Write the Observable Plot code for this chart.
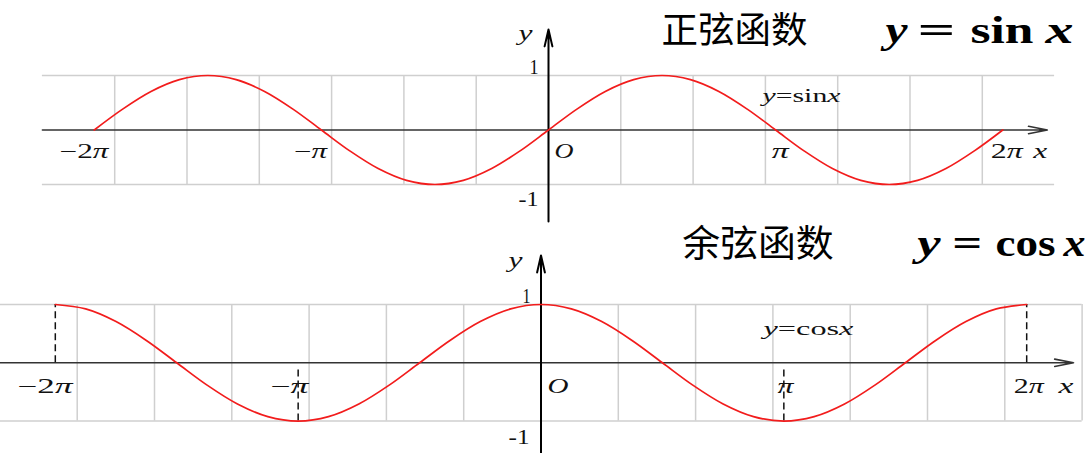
<!DOCTYPE html>
<html>
<head>
<meta charset="utf-8">
<script src="https://cdn.jsdelivr.net/npm/d3@7"></script>
<script src="https://cdn.jsdelivr.net/npm/@observablehq/plot@0.6"></script>
<style>
html, body { margin: 0; padding: 0; background: #fff; overflow: hidden; }
#chart { position: relative; width: 1087px; height: 453px; overflow: hidden; background: #fff; }
#chart svg { position: absolute; left: 0; top: 0; }
</style>
</head>
<body>
<div id="chart"></div>
<script>
// ---------- data ----------
// sample positions along x, in multiples of π
const xInPi = [-2, -1.875, -1.75, -1.625, -1.5, -1.375, -1.25, -1.125, -1, -0.875, -0.75, -0.625, -0.5, -0.375, -0.25, -0.125,
  0, 0.125, 0.25, 0.375, 0.5, 0.625, 0.75, 0.875, 1, 1.125, 1.25, 1.375, 1.5, 1.625, 1.75, 1.875, 2];
const sinValues = [0, 0.383, 0.707, 0.924, 1, 0.924, 0.707, 0.383, 0, -0.383, -0.707, -0.924, -1, -0.924, -0.707, -0.383,
  0, 0.383, 0.707, 0.924, 1, 0.924, 0.707, 0.383, 0, -0.383, -0.707, -0.924, -1, -0.924, -0.707, -0.383, 0];
const cosValues = [1, 0.924, 0.707, 0.383, 0, -0.383, -0.707, -0.924, -1, -0.924, -0.707, -0.383, 0, 0.383, 0.707, 0.924,
  1, 0.924, 0.707, 0.383, 0, -0.383, -0.707, -0.924, -1, -0.924, -0.707, -0.383, 0, 0.383, 0.707, 0.924, 1];
const piTicks = [-2, -1, 1, 2];
const piTickLabels = ["−2π", "−π", "π", "2π"];
const yTicks = [1, -1];
const yTickLabels = ["1", "-1"];
const gridColumnsTop = [-6, -5, -4, -3, -2, -1, 0, 1, 2, 3, 4, 5, 6];
const gridColumnsBottom = [-6, -5, -4, -3, -2, -1, 0, 1, 2, 3, 4, 5, 6, 7];
const gridRows = [-1, 1];
const dashedTop = [-2, 2];     // in π, dashed from axis to y = 1 (cos panel)
const dashedBottom = [-1, 1];  // in π, dashed from y = -1 to axis (cos panel)
const titles = ["正弦函数", "余弦函数"];
const formulas = [["y", "=", "sin", "x"], ["y", "=", "cos", "x"]];
const curveLabels = ["y=sinx", "y=cosx"];
const axisNames = ["x", "y"];
const originLabel = "O";

// ---------- layout ----------
const W = 1087, H = 453;
const SERIF = "'Liberation Serif', 'Times New Roman', 'DejaVu Serif', serif";
const CJK = "'Noto Sans CJK SC', 'Noto Sans CJK JP', sans-serif";
const RED = "#f21c1c";
const rows = xInPi.map((k, i) => ({x: k * Math.PI, sin: sinValues[i], cos: cosValues[i]}));

const fitWidths = new Map();
let uid = 0;
function T(data, opts, width, math) {
  const id = (math ? "m" : "t") + (uid++);
  fitWidths.set(id, width);
  return Plot.text(data, {textAnchor: "start", lineAnchor: "bottom", fontFamily: SERIF, fill: "#111", ...opts, ariaLabel: () => id});
}

const panels = [
  { key: "sin", x0: 548, ux: 72.3, y0: 129.5, uy: 54.5, cols: gridColumnsTop,
    xAxis: [-7, 6.9], yAxis: [-1.68, 1.844],
    tickDx: [-34.7, -27.3, -4, -12], tickDy: 27.5, tickW: [49, 33, 17, 32],
    oDx: 6, oW: 19, yTickDx: [-19, -30], yTickDy: [-2, 21], yTickW: [9, 20],
    xNameDx: -14, xNameW: 14, yNameDx: -30, yNameDy: 10, yNameW: 14,
    curveLabel: {left: 762, base: 101, w: 78, size: 18},
    title: {left: 661, base: 42, w: 146, size: 36},
    formula: {lefts: [885, 917, 970, 1045], widths: [22, 38, 63, 28], base: 42, size: 38},
    dashed: false },
  { key: "cos", x0: 540.5, ux: 77.3, y0: 362.3, uy: 58.3, cols: gridColumnsBottom,
    xAxis: [-7, 6.889], yAxis: [-1.6, 1.84],
    tickDx: [-37.8, -27.7, -6.3, -13], tickDy: 29.7, tickW: [55, 38, 16, 30],
    oDx: 6.5, oW: 21, yTickDx: [-18.5, -32.5], yTickDy: [-2, 22.4], yTickW: [8, 21],
    xNameDx: -15, xNameW: 15, yNameDx: -32.5, yNameDy: 11, yNameW: 14,
    curveLabel: {left: 763, base: 334, w: 90, size: 19},
    title: {left: 681.7, base: 256, w: 151.6, size: 37},
    formula: {lefts: [916.7, 951.7, 995, 1063], widths: [23.3, 30, 60, 22], base: 255, size: 38},
    dashed: true }
];

function buildPanel(cfg, p) {
  const marks = [
    Plot.ruleY(gridRows, {x1: -7, x2: 7, stroke: "#cfcfcf", strokeWidth: 1.5}),
    Plot.ruleX(cfg.cols, {y1: -1, y2: 1, stroke: "#cfcfcf", strokeWidth: 1.5}),
    Plot.arrow([0], {x1: cfg.xAxis[0], x2: cfg.xAxis[1], y1: 0, y2: 0, stroke: "#333", strokeWidth: 1.6, headAngle: 22, headLength: 18}),
    Plot.arrow([0], {x1: 0, x2: 0, y1: cfg.yAxis[0], y2: cfg.yAxis[1], stroke: "#000", strokeWidth: 2, headAngle: 26, headLength: 13})
  ];
  if (cfg.dashed) {
    marks.push(Plot.ruleX(dashedTop, {x: d => d * Math.PI, y1: 0, y2: 1, stroke: "#111", strokeWidth: 1.5, strokeDasharray: "7,4"}));
    marks.push(Plot.ruleX(dashedBottom, {x: d => d * Math.PI, y1: -1, y2: -0.1, stroke: "#111", strokeWidth: 1.5, strokeDasharray: "7,4"}));
  }
  marks.push(Plot.line(rows, {x: "x", y: cfg.key, curve: "catmull-rom", stroke: RED, strokeWidth: 1.7}));
  // tick labels on the x axis
  piTicks.forEach((t, i) => {
    marks.push(T([piTickLabels[i]], {x: () => t * Math.PI, y: 0, dx: cfg.tickDx[i], dy: cfg.tickDy, fontSize: 20}, cfg.tickW[i], true));
  });
  marks.push(T([originLabel], {x: 0, y: 0, dx: cfg.oDx, dy: cfg.tickDy, fontSize: 20, fontStyle: "italic"}, cfg.oW, false));
  marks.push(T([axisNames[0]], {x: cfg.xAxis[1], y: 0, dx: cfg.xNameDx, dy: cfg.tickDy, fontSize: 20, fontStyle: "italic"}, cfg.xNameW, false));
  // tick labels on the y axis
  yTicks.forEach((v, i) => {
    marks.push(T([yTickLabels[i]], {x: 0, y: v, dx: cfg.yTickDx[i], dy: cfg.yTickDy[i], fontSize: 20}, cfg.yTickW[i], false));
  });
  marks.push(T([axisNames[1]], {x: 0, y: cfg.yAxis[1], dx: cfg.yNameDx, dy: cfg.yNameDy, fontSize: 20, fontStyle: "italic"}, cfg.yNameW, false));
  // curve label
  marks.push(T([curveLabels[p]], {frameAnchor: "top-left", dx: cfg.curveLabel.left, dy: cfg.curveLabel.base, fontSize: cfg.curveLabel.size}, cfg.curveLabel.w, true));
  // title
  marks.push(T([titles[p]], {frameAnchor: "top-left", dx: cfg.title.left, dy: cfg.title.base, fontSize: cfg.title.size, fontFamily: CJK, fill: "#000"}, cfg.title.w, false));
  formulas[p].forEach((piece, i) => {
    const italic = piece === "x" || piece === "y";
    marks.push(T([piece], {frameAnchor: "top-left", dx: cfg.formula.lefts[i], dy: cfg.formula.base, fontSize: cfg.formula.size,
      fontWeight: "bold", fontStyle: italic ? "italic" : "normal", fill: "#000"}, cfg.formula.widths[i], false));
  });

  return Plot.plot({
    width: W, height: H, margin: 0,
    style: {background: "transparent", overflow: "visible"},
    x: {domain: [-cfg.x0 / cfg.ux, (W - cfg.x0) / cfg.ux], axis: null},
    y: {domain: [(cfg.y0 - H) / cfg.uy, cfg.y0 / cfg.uy], axis: null},
    marks
  });
}

function finish(svg) {
  d3.select(svg).selectAll("text[aria-label]").each(function() {
    const id = this.getAttribute("aria-label");
    if (!fitWidths.has(id)) return;
    const w = fitWidths.get(id);
    if (id[0] === "m") {
      const s = this.textContent;
      this.textContent = "";
      for (const ch of s) {
        const ts = document.createElementNS("http://www.w3.org/2000/svg", "tspan");
        ts.textContent = ch;
        if ("πxyO".includes(ch)) ts.setAttribute("font-style", "italic");
        this.appendChild(ts);
      }
    }
    const len = this.getComputedTextLength();
    if (len > 0) this.setAttribute("transform", (this.getAttribute("transform") || "") + ` scale(${w / len},1)`);
  });
}

const chart = document.getElementById("chart");
panels.forEach((cfg, p) => {
  const svg = buildPanel(cfg, p);
  chart.appendChild(svg);
  finish(svg);
});
</script>
</body>
</html>
